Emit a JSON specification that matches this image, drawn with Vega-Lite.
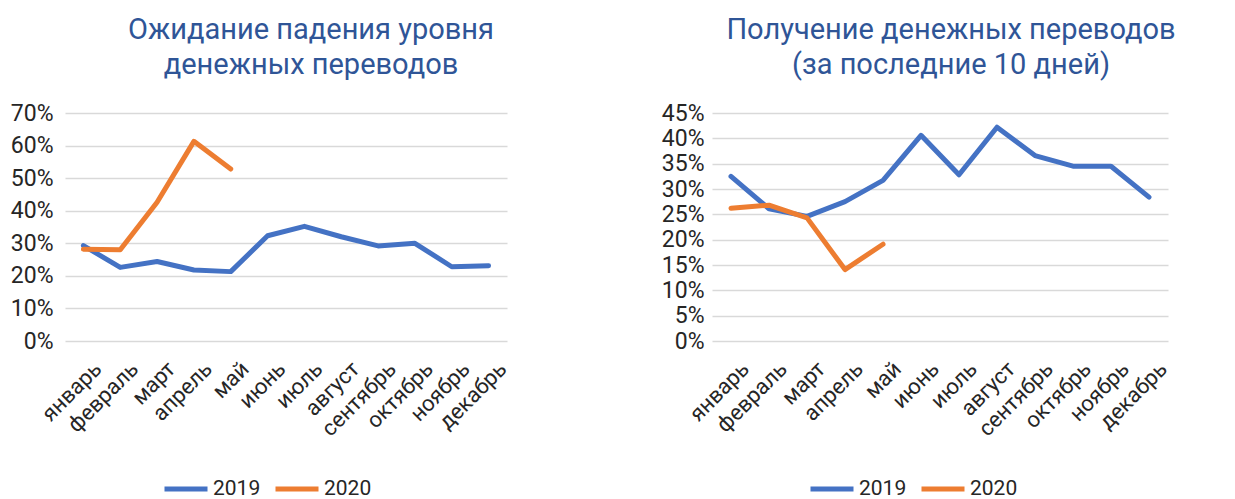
{
  "$schema": "https://vega.github.io/schema/vega-lite/v6.json",
  "padding": {"left": 10, "top": 16, "right": 5, "bottom": 0},
  "background": "white",
  "config": {
    "font": "Roboto",
    "view": {"stroke": null},
    "title": {"font": "Roboto", "fontSize": 29, "fontWeight": "normal", "color": "#2F5597", "anchor": "middle", "lineHeight": 35, "offset": 22},
    "axis": {"labelFont": "Roboto", "labelColor": "#262626", "domain": false, "ticks": false, "title": null},
    "legend": {"labelFont": "Roboto", "labelFontSize": 21, "labelColor": "#262626"},
    "concat": {"spacing": 150}
  },
  "datasets": {
    "d": [
      {"chart": "a", "month": "январь", "year": "2019", "value": 0.293},
      {"chart": "a", "month": "февраль", "year": "2019", "value": 0.226},
      {"chart": "a", "month": "март", "year": "2019", "value": 0.244},
      {"chart": "a", "month": "апрель", "year": "2019", "value": 0.218},
      {"chart": "a", "month": "май", "year": "2019", "value": 0.213},
      {"chart": "a", "month": "июнь", "year": "2019", "value": 0.323},
      {"chart": "a", "month": "июль", "year": "2019", "value": 0.352},
      {"chart": "a", "month": "август", "year": "2019", "value": 0.320},
      {"chart": "a", "month": "сентябрь", "year": "2019", "value": 0.292},
      {"chart": "a", "month": "октябрь", "year": "2019", "value": 0.300},
      {"chart": "a", "month": "ноябрь", "year": "2019", "value": 0.228},
      {"chart": "a", "month": "декабрь", "year": "2019", "value": 0.231},
      {"chart": "a", "month": "январь", "year": "2020", "value": 0.282},
      {"chart": "a", "month": "февраль", "year": "2020", "value": 0.280},
      {"chart": "a", "month": "март", "year": "2020", "value": 0.426},
      {"chart": "a", "month": "апрель", "year": "2020", "value": 0.613},
      {"chart": "a", "month": "май", "year": "2020", "value": 0.528},
      {"chart": "b", "month": "январь", "year": "2019", "value": 0.325},
      {"chart": "b", "month": "февраль", "year": "2019", "value": 0.261},
      {"chart": "b", "month": "март", "year": "2019", "value": 0.246},
      {"chart": "b", "month": "апрель", "year": "2019", "value": 0.275},
      {"chart": "b", "month": "май", "year": "2019", "value": 0.317},
      {"chart": "b", "month": "июнь", "year": "2019", "value": 0.406},
      {"chart": "b", "month": "июль", "year": "2019", "value": 0.328},
      {"chart": "b", "month": "август", "year": "2019", "value": 0.422},
      {"chart": "b", "month": "сентябрь", "year": "2019", "value": 0.366},
      {"chart": "b", "month": "октябрь", "year": "2019", "value": 0.345},
      {"chart": "b", "month": "ноябрь", "year": "2019", "value": 0.345},
      {"chart": "b", "month": "декабрь", "year": "2019", "value": 0.284},
      {"chart": "b", "month": "январь", "year": "2020", "value": 0.262},
      {"chart": "b", "month": "февраль", "year": "2020", "value": 0.268},
      {"chart": "b", "month": "март", "year": "2020", "value": 0.243},
      {"chart": "b", "month": "апрель", "year": "2020", "value": 0.141},
      {"chart": "b", "month": "май", "year": "2020", "value": 0.191}
    ]
  },
  "hconcat": [
    {
      "data": {"name": "d"},
      "transform": [{"filter": "datum.chart === 'a'"}],
      "width": 442,
      "height": 228,
      "title": {"text": ["Ожидание падения уровня", "денежных переводов"], "dx": 25},
      "mark": {"type": "line", "strokeWidth": 5, "strokeCap": "round", "strokeJoin": "round"},
      "encoding": {
        "x": {"field": "month", "type": "nominal", "sort": ["январь","февраль","март","апрель","май","июнь","июль","август","сентябрь","октябрь","ноябрь","декабрь"],
              "scale": {"type": "point", "padding": 0.5},
              "axis": {"labelAngle": -45, "labelAlign": "right", "labelBaseline": "middle", "labelFontSize": 22, "labelPadding": 24, "labelOffset": 14, "grid": false}},
        "y": {"field": "value", "type": "quantitative", "scale": {"domain": [0, 0.7]},
              "axis": {"values": [0,0.1,0.2,0.3,0.4,0.5,0.6,0.7], "format": ".0%", "labelFontSize": 23, "labelPadding": 12, "gridColor": "#d9d9d9", "gridWidth": 1.5}},
        "color": {"field": "year", "type": "nominal", "scale": {"domain": ["2019","2020"], "range": ["#4472C4","#ED7D31"]},
                  "legend": {"orient": "none", "legendX": 97, "legendY": 352, "direction": "horizontal", "title": null, "symbolType": "stroke", "symbolSize": 1849, "symbolStrokeWidth": 5, "labelOffset": 3, "columnPadding": 4}}
      }
    },
    {
      "data": {"name": "d"},
      "transform": [{"filter": "datum.chart === 'b'"}],
      "width": 456,
      "height": 228,
      "title": {"text": ["Получение денежных переводов", "(за последние 10 дней)"], "dx": 11},
      "mark": {"type": "line", "strokeWidth": 5, "strokeCap": "round", "strokeJoin": "round"},
      "encoding": {
        "x": {"field": "month", "type": "nominal", "sort": ["январь","февраль","март","апрель","май","июнь","июль","август","сентябрь","октябрь","ноябрь","декабрь"],
              "scale": {"type": "point", "padding": 0.5},
              "axis": {"labelAngle": -45, "labelAlign": "right", "labelBaseline": "middle", "labelFontSize": 22, "labelPadding": 24, "labelOffset": 14, "grid": false}},
        "y": {"field": "value", "type": "quantitative", "scale": {"domain": [0, 0.45]},
              "axis": {"values": [0,0.05,0.1,0.15,0.2,0.25,0.3,0.35,0.4,0.45], "format": ".0%", "labelFontSize": 23, "labelPadding": 8, "gridColor": "#d9d9d9", "gridWidth": 1.5}},
        "color": {"field": "year", "type": "nominal", "scale": {"domain": ["2019","2020"], "range": ["#4472C4","#ED7D31"]},
                  "legend": {"orient": "none", "legendX": 96, "legendY": 352, "direction": "horizontal", "title": null, "symbolType": "stroke", "symbolSize": 1849, "symbolStrokeWidth": 5, "labelOffset": 3, "columnPadding": 4}}
      }
    }
  ],
  "resolve": {"scale": {"color": "independent"}, "legend": {"color": "independent"}}
}
